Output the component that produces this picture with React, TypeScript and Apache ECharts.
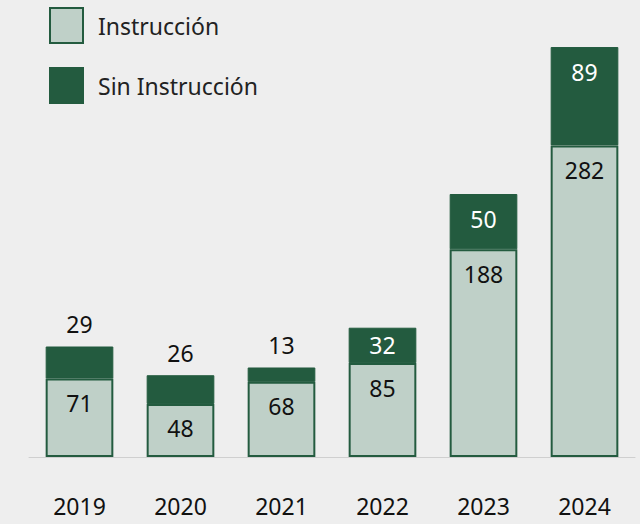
import React, { useEffect, useRef } from "react";
import * as echarts from "echarts";

const years = ["2019", "2020", "2021", "2022", "2023", "2024"];
const instruccion = [71, 48, 68, 85, 188, 282];
const sinInstruccion = [29, 26, 13, 32, 50, 89];
// how each "Sin Instrucción" label is placed
const sinLabelPos = ["top", "top", "top", "inside", "insideTop", "insideTop"];

const DARK = "#235b3f";
const LIGHT = "#bfd0c8";
const FONT = "'Noto Sans', 'Open Sans', sans-serif";

export default function App() {
  const ref = useRef<HTMLDivElement>(null);
  useEffect(() => {
    document.body.style.margin = "0";
    if (!ref.current) return;
    const chart = echarts.init(ref.current, undefined, { renderer: "svg" });
    chart.setOption({
      animation: false,
      backgroundColor: "#eeeeee",
      textStyle: { fontFamily: FONT },
      legend: {
        orient: "vertical",
        left: 49,
        top: 7,
        padding: 0,
        itemWidth: 33,
        itemHeight: 35,
        itemGap: 23,
        icon: "rect",
        textStyle: { fontSize: 23, color: "#222", fontFamily: FONT, padding: [0, 0, 0, 10] },
        data: ["Instrucción", "Sin Instrucción"],
      },
      grid: { left: 29, right: 5, top: 15, bottom: 67 },
      xAxis: {
        type: "category",
        data: years,
        axisLine: { lineStyle: { color: "#cfcfcf", width: 1 } },
        axisTick: { show: false },
        axisLabel: { fontSize: 23, color: "#111", margin: 37, fontFamily: FONT },
      },
      yAxis: {
        type: "value",
        min: 0,
        max: 400,
        show: false,
        splitLine: { show: false },
      },
      series: [
        {
          name: "Instrucción",
          type: "bar",
          stack: "a",
          barWidth: "67%",
          data: instruccion,
          itemStyle: { color: LIGHT, borderColor: DARK, borderWidth: 2 },
          label: {
            show: true,
            position: "insideTop",
            distance: 13,
            fontSize: 23,
            color: "#111",
            fontFamily: FONT,
          },
        },
        {
          name: "Sin Instrucción",
          type: "bar",
          stack: "a",
          barWidth: "67%",
          data: sinInstruccion.map((v, i) => ({
            value: v,
            label: {
              position: sinLabelPos[i],
              distance: sinLabelPos[i] === "top" ? 11 : 13,
              color: sinLabelPos[i] === "top" ? "#111" : "#fff",
            },
          })),
          itemStyle: { color: DARK, borderColor: DARK, borderWidth: 1 },
          label: { show: true, fontSize: 23, fontFamily: FONT },
        },
      ],
    });
    return () => chart.dispose();
  }, []);
  return <div ref={ref} style={{ width: 640, height: 524 }} />;
}
